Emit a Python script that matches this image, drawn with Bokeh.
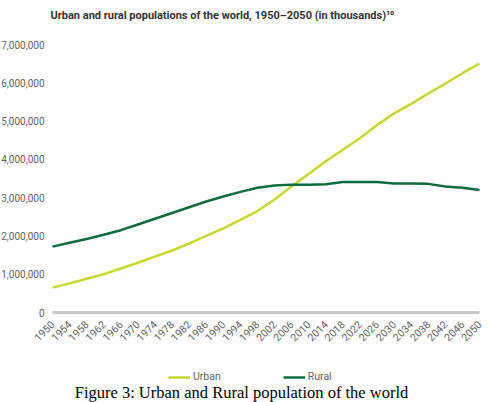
import math
from bokeh.plotting import figure
from bokeh.models import (Range1d, NumeralTickFormatter, FixedTicker, Label,
                          Legend, LegendItem, ColumnDataSource)
from bokeh.embed import file_html
from bokeh.resources import INLINE

# ---- data (thousands) ----
years = [1950, 1954, 1958, 1962, 1966, 1970, 1974, 1978, 1982, 1986, 1990, 1994, 1998,
         2002, 2006, 2010, 2014, 2018, 2022, 2026, 2030, 2034, 2038, 2042, 2046, 2050]
urban = [650000, 760000, 880000, 1000000, 1150000, 1300000, 1460000, 1620000, 1800000,
         2000000, 2200000, 2420000, 2650000, 2950000, 3300000, 3620000, 3950000, 4250000,
         4550000, 4900000, 5200000, 5450000, 5720000, 5980000, 6250000, 6500000]
rural = [1720000, 1820000, 1920000, 2030000, 2150000, 2300000, 2450000, 2600000, 2750000,
         2900000, 3030000, 3150000, 3260000, 3320000, 3340000, 3340000, 3350000, 3410000,
         3410000, 3410000, 3370000, 3370000, 3360000, 3290000, 3260000, 3200000]
x_ticks = list(range(1950, 2051, 4))
y_ticks = list(range(0, 7000001, 1000000))
title_text = "Urban and rural populations of the world, 1950\u20132050 (in thousands)\u00b9\u2070"
caption_text = "Figure 3: Urban and Rural population of the world"
series_names = ["Urban", "Rural"]

URBAN_C = "#c6d82e"
RURAL_C = "#0f6b3f"
TICK_C = "#646464"

W, H = 489, 402
# pixel placement of the data area inside the canvas
X0, X1 = 52, 479          # 1950 .. 2050
Y0, Y7 = 312, 44          # 0 .. 7,000,000 (from top)
ppy = (X1 - X0) / 100.0
ppv = (Y0 - Y7) / 7000000.0
x_start = 1950 - X0 / ppy
x_end = 2050 + (W - X1) / ppy
y_start = -(H - Y0) / ppv
y_end = 7000000 + Y7 / ppv

src = ColumnDataSource(dict(year=years, urban=urban, rural=rural))

p = figure(width=W, height=H, output_backend="svg", toolbar_location=None,
           x_range=Range1d(x_start, x_end), y_range=Range1d(y_start, y_end),
           min_border=0, min_border_left=0, min_border_right=0,
           min_border_top=0, min_border_bottom=0)
p.outline_line_color = None
p.xgrid.visible = False
p.ygrid.visible = False
p.background_fill_color = "white"
p.border_fill_color = "white"

# y axis (drawn inside the canvas at 1950)
p.yaxis.fixed_location = 1950
p.yaxis.bounds = (0, 7000000)
p.yaxis.ticker = FixedTicker(ticks=y_ticks)
p.yaxis.formatter = NumeralTickFormatter(format="0,0")
p.yaxis.axis_line_color = None
p.yaxis.major_tick_line_color = None
p.yaxis.minor_tick_line_color = None
p.yaxis.major_label_text_font = "Roboto"
p.yaxis.major_label_text_font_size = "10px"
p.yaxis.major_label_text_color = TICK_C
p.yaxis.major_label_standoff = 2

# x axis (drawn at value 0)
p.xaxis.fixed_location = 0
p.xaxis.bounds = (1950, 2050)
p.xaxis.ticker = FixedTicker(ticks=x_ticks)
p.xaxis.axis_line_color = "#c8c8c8"
p.xaxis.axis_line_width = 3
p.xaxis.major_tick_line_color = None
p.xaxis.minor_tick_line_color = None
p.xaxis.major_label_orientation = math.pi / 4
p.xaxis.major_label_text_font = "Roboto"
p.xaxis.major_label_text_font_size = "10.5px"
p.xaxis.major_label_text_color = TICK_C
p.xaxis.major_label_standoff = 4

r_urban = p.line("year", "urban", source=src, line_color=URBAN_C, line_width=2.5)
r_rural = p.line("year", "rural", source=src, line_color=RURAL_C, line_width=2.5)

legend = Legend(items=[LegendItem(label=series_names[0], renderers=[r_urban]),
                       LegendItem(label=series_names[1], renderers=[r_rural])],
                location=(168, 19), orientation="horizontal",
                glyph_width=22, glyph_height=12, label_standoff=3, spacing=62,
                padding=0, margin=0, border_line_color=None,
                background_fill_alpha=0,
                label_text_font="Roboto", label_text_font_size="10.5px",
                label_text_color=TICK_C)
p.add_layout(legend, "center")

p.add_layout(Label(x=50, y=H - 15, x_units="screen", y_units="screen", text=title_text,
                   text_font="Roboto", text_font_style="bold",
                   text_font_size="11px", text_color="#333333",
                   text_align="left", text_baseline="alphabetic"))
p.add_layout(Label(x=241, y=10, x_units="screen", y_units="screen", text=caption_text,
                   text_font="Liberation Serif", text_font_size="16.5px",
                   text_color="#000000", text_align="center", text_baseline="alphabetic"))

open("out.html", "w").write(file_html(p, INLINE))
